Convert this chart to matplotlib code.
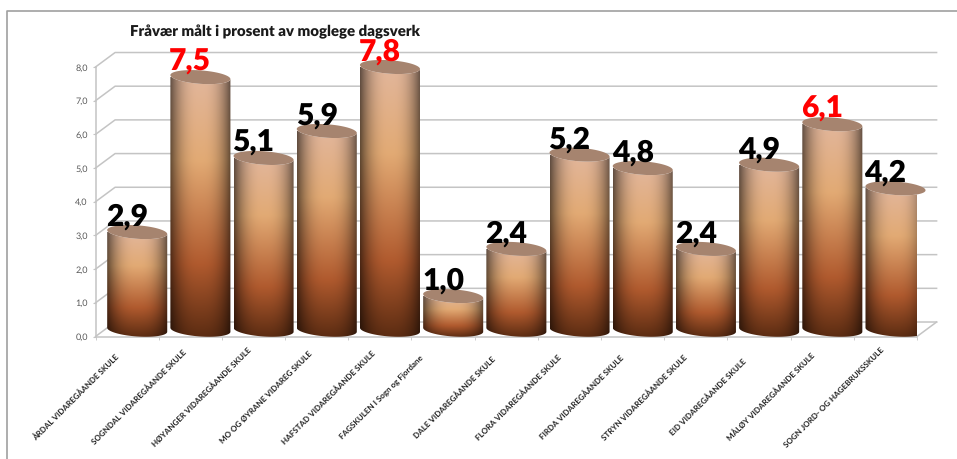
import matplotlib
matplotlib.use("Agg")
import matplotlib.pyplot as plt
import numpy as np
from matplotlib.lines import Line2D
from matplotlib.path import Path
from matplotlib.transforms import ScaledTranslation

plt.rcParams['font.family'] = ['Lato', 'DejaVu Sans']
plt.rcParams['text.hinting'] = 'no_hinting'
plt.rcParams['text.hinting_factor'] = 1

schools = ["ÅRDAL VIDAREGÅANDE SKULE", "SOGNDAL VIDAREGÅANDE SKULE", "HØYANGER VIDAREGÅANDE SKULE",
           "MO OG ØYRANE VIDAREG SKULE", "HAFSTAD VIDAREGÅANDE SKULE", "FAGSKULEN I Sogn og Fjordane",
           "DALE VIDAREGÅANDE SKULE", "FLORA VIDAREGÅANDE SKULE", "FIRDA VIDAREGÅANDE SKULE",
           "STRYN VIDAREGÅANDE SKULE", "EID VIDAREGÅANDE SKULE", "MÅLØY VIDAREGÅANDE SKULE",
           "SOGN JORD- OG HAGEBRUKSSKULE"]
absence = [2.9, 7.5, 5.1, 5.9, 7.8, 1.0, 2.4, 5.2, 4.8, 2.4, 4.9, 6.1, 4.2]
highlighted = ["SOGNDAL VIDAREGÅANDE SKULE", "HAFSTAD VIDAREGÅANDE SKULE", "MÅLØY VIDAREGÅANDE SKULE"]
y_ticks = [0, 1, 2, 3, 4, 5, 6, 7, 8]

W, H = 957, 459
GRID = '#c4c4c4'
# fake 3D depth of the chart box, in data units
DEPTH_X, DEPTH_Y = 0.31, 0.43
# cylinder shape, in data units
HALF_W, CENTRE_X, CENTRE_Y = 0.475, 0.16, 0.2
ELL_B, ELL_TILT = 0.2, 0.06

fig = plt.figure(figsize=(W / 100, H / 100), dpi=100)
ax = fig.add_axes([95.5 / W, 1 - 336.5 / H, (917 - 95.5) / W, (336.5 - 67) / H])
ax.patch.set_visible(False)


def ellipse_xy(cx, cy, t):
    return cx + HALF_W * np.cos(t), cy + ELL_B * np.sin(t) - ELL_TILT * np.cos(t)


def cylinder_texture(n=200):
    # vertical colour ramp times a horizontal shade
    stops = np.array([0, 0.32, 0.72, 1.0])
    ramp = np.array([[226, 182, 155], [226, 170, 116], [176, 90, 46], [92, 44, 18]]) / 255
    v = np.linspace(0, 1, n)
    col = np.stack([np.interp(v, stops, ramp[:, k]) for k in range(3)], axis=1)
    u = np.linspace(-1, 1, n)
    shade = 1 - 0.58 * np.abs(u) ** 2.6
    tex = col[:, None, :] * shade[None, :, None]
    return np.clip(tex, 0, 1)


# back wall, floor and side lines
for v in y_ticks:
    ax.plot([-0.0, DEPTH_X, 13 + DEPTH_X], [v, v + DEPTH_Y, v + DEPTH_Y], color=GRID, lw=1.1, clip_on=False, zorder=1)
ax.plot([13, 13 + DEPTH_X], [0, DEPTH_Y], color=GRID, lw=1.1, clip_on=False, zorder=1)

tex = cylinder_texture()
t = np.linspace(0, 2 * np.pi, 121)
for i, value in enumerate(absence):
    cx = i + 0.5 + CENTRE_X
    top = value + CENTRE_Y
    # side: bottom half of the base ellipse, then up and over the top ellipse
    tb = np.linspace(np.pi, 2 * np.pi, 60)
    bx, by = ellipse_xy(cx, CENTRE_Y, tb)
    tx, ty = ellipse_xy(cx, top, tb[::-1])
    verts = np.column_stack([np.r_[bx, tx], np.r_[by, ty]])
    ymin, ymax = by.min(), top
    im = ax.imshow(tex, extent=(cx - HALF_W, cx + HALF_W, ymin, ymax), origin='upper',
                   aspect='auto', interpolation='bilinear', zorder=3)
    im.set_clip_path(Path(np.vstack([verts, verts[0]]), closed=True), ax.transData)
    im.set_clip_box(None)
    ex, ey = ellipse_xy(cx, top, t)
    ax.fill(ex, ey, color='#a6846f', lw=0, clip_on=False, zorder=4)

for i, value in enumerate(absence):
    color = 'red' if schools[i] in highlighted else 'black'
    ax.text(i + 0.5, value + 0.39, f"{value:.1f}".replace('.', ','), color=color, fontsize=21.5,
            fontweight='heavy', ha='center', va='baseline', zorder=6, clip_on=False)

ax.set_xlim(0, 13)
ax.set_ylim(0, 8)
ax.set_yticks(y_ticks)
ax.set_yticklabels([f"{v:.1f}".replace('.', ',') for v in y_ticks], fontsize=6.8, color='#595959')
ax.tick_params(axis='y', length=2.5, color=GRID, pad=3)
ax.set_xticks(np.arange(0, 14), minor=True)
ax.tick_params(axis='x', which='minor', length=2.5, color=GRID)
ax.set_xticks(np.arange(13) + 0.5)
ax.set_xticklabels(schools, fontsize=5.6, fontweight='bold', rotation=45, ha='center', va='center',
                   rotation_mode='anchor', color='#222222')
ax.tick_params(axis='x', which='major', length=0, pad=44)
for lbl, school in zip(ax.get_xticklabels(), schools):
    dx = -61 if school.startswith("FAGSKULEN") else -51
    lbl.set_transform(lbl.get_transform() + ScaledTranslation(dx / 100, 0, fig.dpi_scale_trans))

for side in ('top', 'right'):
    ax.spines[side].set_visible(False)
for side in ('left', 'bottom'):
    ax.spines[side].set_color(GRID)
    ax.spines[side].set_linewidth(1.1)

fig.text(275 / W, 1 - 32 / H, "Fråvær målt i prosent av moglege dagsverk", fontsize=10.7, fontweight='heavy',
         ha='center', va='center', color='#1a1a1a')

# outer frame, only top and left fall inside the crop
fig.add_artist(Line2D([7.5 / W, 7.5 / W, 1], [0, 1 - 10.5 / H, 1 - 10.5 / H], color='#a0a0a0', lw=1.2))

fig.savefig("out.png", dpi=100)
